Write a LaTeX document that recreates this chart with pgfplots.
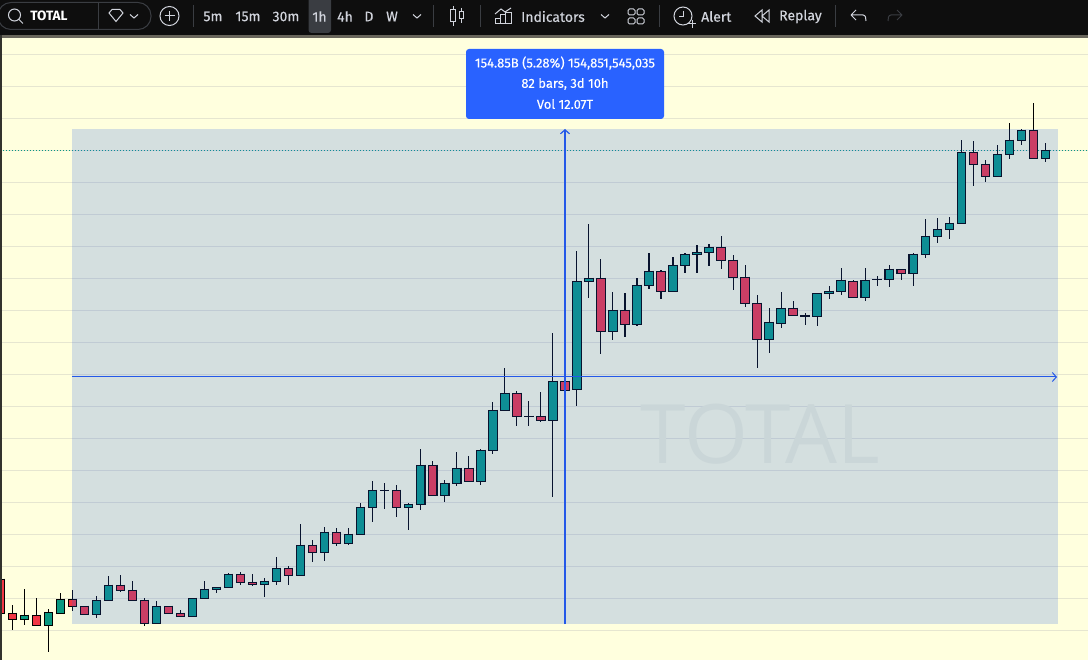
\documentclass[border=0pt]{standalone}
\usepackage{fontspec}
\setmainfont{Fira Sans}
\newfontfamily\uifont[FakeBold=0.25]{Fira Sans}
\newfontfamily\wmfont{Open Sans}
\usepackage{pgfplots}
\usepackage{pgfplotstable}
\pgfplotsset{compat=1.18}
\usetikzlibrary{arrows.meta}

\definecolor{paper}{HTML}{FFFFDE}
\definecolor{gridc}{HTML}{E6E6D0}
\definecolor{upc}{HTML}{089981}
\definecolor{downc}{HTML}{F23645}
\definecolor{tvblue}{HTML}{2962FF}
\definecolor{areac}{HTML}{2A62E6}
\definecolor{crossc}{HTML}{2458E8}
\definecolor{barc}{HTML}{0E0E0E}
\definecolor{barline}{HTML}{3A3D42}
\definecolor{txt}{HTML}{D1D4DC}
\definecolor{wmark}{HTML}{CAD6D8}

% i top bot hi lo  (pixels from the top of the picture)
\pgfplotstableread{
i top bot hi lo
0 579.3 613.3 579.3 613.3
1 613.3 619.3 605.3 629.7
3 615.3 625.3 598.3 625.3
6 599.3 606.3 590.0 610.7
7 606.3 614.3 606.3 614.3
10 585.3 590.3 575.3 591.7
11 590.3 600.3 581.3 600.3
12 600.3 623.3 598.3 625.7
14 606.3 613.3 606.3 613.3
15 613.3 616.3 610.3 617.3
20 574.3 582.3 572.3 585.3
21 582.3 584.3 574.3 586.3
24 568.3 575.3 566.3 585.3
26 545.3 552.7 540.3 562.0
28 532.3 543.7 528.3 545.7
33 490.3 507.3 485.3 516.7
36 465.3 495.3 461.3 495.3
39 468.3 481.3 456.3 481.3
43 393.3 416.3 391.3 425.7
45 416.3 420.7 392.3 422.3
47 381.3 390.3 381.3 390.3
50 278.3 331.3 259.3 353.7
52 310.3 324.3 293.3 337.3
55 271.3 291.3 270.3 299.3
60 247.3 260.3 236.3 268.7
61 260.3 277.3 255.3 290.3
62 277.3 303.3 265.3 306.7
63 303.3 339.3 295.3 367.7
66 308.3 315.3 301.3 315.3
71 281.3 297.3 280.3 297.3
75 269.7 273.3 269.7 280.0
81 152.3 164.3 141.3 185.7
82 164.3 176.3 160.3 181.7
86 130.3 158.3 103.3 158.3
}\downbars

\pgfplotstableread{
i top bot hi lo
2 615.3 619.3 589.0 624.7
4 612.7 625.3 609.3 651.7
5 599.3 613.3 593.3 613.3
8 600.3 614.3 596.3 617.7
9 585.3 600.3 576.3 600.3
13 606.3 623.3 601.3 623.3
16 598.3 616.3 598.3 616.3
17 589.3 598.3 581.3 598.3
18 587.3 589.3 587.3 593.3
19 574.3 587.3 573.3 587.3
22 581.3 584.3 578.3 597.3
23 568.3 581.3 557.3 585.3
25 545.3 575.3 524.3 575.3
27 532.3 552.3 527.3 561.0
29 534.3 543.7 528.3 544.7
30 507.3 534.3 503.3 534.3
31 490.3 507.3 481.3 521.7
32 490.5 490.5 483.3 508.7
34 504.3 507.3 503.3 529.7
35 465.3 504.3 449.3 509.7
37 483.3 495.3 480.3 502.3
38 468.3 483.3 452.3 485.7
40 450.3 481.3 449.3 484.7
41 410.3 450.3 402.3 453.7
42 393.3 410.3 368.3 410.3
44 416.3 416.3 401.3 425.7
46 381.3 420.7 333.3 497.3
48 281.3 389.3 251.3 405.7
49 278.3 281.3 224.3 298.0
51 310.3 331.3 292.3 339.7
53 285.3 324.3 278.3 326.3
54 271.3 285.3 253.3 289.3
56 265.3 291.3 257.3 291.3
57 254.3 265.3 253.3 273.3
58 252.3 254.3 245.3 272.7
59 247.3 252.3 244.3 266.3
64 322.3 339.3 308.3 352.7
65 308.3 323.3 292.3 327.7
67 315.6 316.4 313.3 324.7
68 293.3 316.3 293.3 325.7
69 291.3 293.3 286.3 299.3
70 280.3 291.3 268.3 295.3
72 280.3 297.3 268.3 300.7
73 279.3 279.3 276.3 285.7
74 269.3 279.3 265.3 286.7
76 254.3 273.3 253.3 285.7
77 236.3 254.3 219.3 258.3
78 229.3 236.3 218.3 242.7
79 223.3 229.3 217.3 238.7
80 152.3 223.3 140.3 223.3
83 154.3 176.3 145.3 176.3
84 140.3 154.3 123.3 158.7
85 130.3 140.3 129.3 144.7
87 150.3 158.3 143.3 161.7
}\upbars

% wick, outline and fill of one group of candles
\newcommand\candles[2]{%
  \addplot[draw=none,mark=none,forget plot,error bars/.cd,y dir=plus,y explicit,error mark=none,
    error bar style={draw=black,line width=1.1pt}]
    table[x expr=\thisrow{i}*12.012+0.33,y=hi,y error expr=\thisrow{lo}-\thisrow{hi}]{#1};
  \addplot[draw=none,mark=none,forget plot,error bars/.cd,y dir=plus,y explicit,error mark=none,
    error bar style={draw=black,line width=9.5pt}]
    table[x expr=\thisrow{i}*12.012+0.33,y expr=\thisrow{top}-0.6,y error expr=\thisrow{bot}-\thisrow{top}+1.2]{#1};
  \addplot[draw=none,mark=none,forget plot,error bars/.cd,y dir=plus,y explicit,error mark=none,
    error bar style={draw=#2,line width=7.4pt}]
    table[x expr=\thisrow{i}*12.012+0.33,y expr=\thisrow{top}+0.6,y error expr={max(\thisrow{bot}-\thisrow{top}-1.2,0)}]{#1};
}

\begin{document}
\begin{tikzpicture}
\begin{axis}[
  scale only axis,
  width=1088pt, height=660pt,
  xmin=0, xmax=1088, ymin=0, ymax=660,
  y dir=reverse,
  axis line style={draw=none},
  tick style={draw=none},
  xtick=\empty,
  ytick={54.3,86.3,118.3,150.3,182.3,214.3,246.3,278.3,310.3,342.3,374.3,406.3,438.3,470.3,502.3,534.3,566.3,598.3,630.3},
  yticklabels={},
  ymajorgrids=true,
  grid style={gridc,line width=1pt},
  axis background/.style={fill=paper},
]
% last price line
\addplot[upc,line width=1pt,dash pattern=on 1pt off 2pt,forget plot] coordinates {(0,150.3) (1088,150.3)};

\candles{\downbars}{downc}
\candles{\upbars}{upc}

% measure area, tints everything under it
\addplot[draw=none,fill=areac,fill opacity=0.2,forget plot] coordinates {(72,129) (1058,129) (1058,624) (72,624)} --cycle;

\node[anchor=center,text=wmark,font=\wmfont\fontsize{82}{82}\selectfont] at (760,434) {TOTAL};

% crosshair of the measure
\addplot[crossc,line width=1.2pt,-{Straight Barb[length=4pt,width=9pt]},forget plot] coordinates {(565,624) (565,129)};
\addplot[crossc,line width=1pt,-{Straight Barb[length=4pt,width=9pt]},forget plot] coordinates {(72,377) (1057,377)};

% tooltip
\fill[tvblue,rounded corners=3pt] (466,49) rectangle (664,119);
\begin{scope}[font=\uifont\fontsize{13}{13}\selectfont]
\node[text=white] at (565,63) {154.85B (5.28\%) 154,851,545,035};
\node[text=white] at (565,84) {82 bars, 3d 10h};
\node[text=white] at (565,104) {Vol 12.07T};
\end{scope}

% window frame
\fill[barc] (0,0) rectangle (1088,35);
\fill[black!80!yellow!60!gray] (0,35) rectangle (1088,38);
\fill[barc!85!paper] (0,35) rectangle (2,660);

% toolbar
\begin{scope}[font=\uifont\fontsize{14}{14}\selectfont]
\draw[barline,line width=1pt,rounded corners=13pt] (-2,2.5) -- (-2,29.5) -- (151,29.5) -- (151,2.5) -- cycle;
\draw[barline,line width=1pt] (98,2.5) -- (98,29.5);
\draw[txt,line width=1pt] (14.5,15) circle[radius=6];
\draw[txt,line width=1pt] (19,19.5) -- (23,23.5);
\node[text=white,font=\fontsize{13.5}{14}\selectfont\bfseries] at (49,16) {TOTAL};
\draw[txt,line width=1pt] (109,13) -- (112,9.5) -- (120,9.5) -- (123,13) -- (116,21.5) -- cycle;
\draw[txt,line width=1pt] (130,14.5) -- (134,18) -- (138,14.5);
\draw[txt,line width=1pt] (169.5,16) circle[radius=9.5];
\draw[txt,line width=1pt] (164.5,16) -- (174.5,16) (169.5,11) -- (169.5,21);
\draw[barline,line width=1pt] (193,5) -- (193,27);
\fill[barline,rounded corners=3pt] (308.5,-5) rectangle (331,33);
\node[text=txt] at (213,16.5) {5m};
\node[text=txt] at (248,16.5) {15m};
\node[text=txt] at (286,16.5) {30m};
\node[text=txt] at (319.5,16.5) {1h};
\node[text=txt] at (345,16.5) {4h};
\node[text=txt] at (369,16.5) {D};
\node[text=txt] at (392,16.5) {W};
\draw[txt,line width=1pt] (413,14.5) -- (417,18) -- (421,14.5);
\draw[barline,line width=1pt] (433,5) -- (433,27);
\draw[txt,line width=1pt] (450.5,10) rectangle (455.5,22) (453,6) -- (453,10) (453,22) -- (453,26);
\draw[txt,line width=1pt] (459,12) rectangle (463,19) (461,8) -- (461,12) (461,19) -- (461,23);
\draw[barline,line width=1pt] (480,5) -- (480,27);
\draw[txt,line width=1pt] (495,14) -- (501,9) -- (505,12) -- (511,8);
\draw[txt,line width=1pt] (495,24) rectangle (500,19) (500,24) rectangle (505,15) (505,24) rectangle (511,13);
\node[text=txt,anchor=west,inner sep=0pt] at (521,16.5) {Indicators};
\draw[txt,line width=1pt] (601,14.5) -- (605,18) -- (609,14.5);
\draw[txt,line width=1pt,rounded corners=1.5pt] (628,9) rectangle (635,15) (637,9) rectangle (644,15) (628,18) rectangle (635,24) (637,18) rectangle (644,24);
\draw[barline,line width=1pt] (659,5) -- (659,27);
\draw[txt,line width=1pt] (683,16) circle[radius=9];
\draw[txt,line width=1pt] (683,11) -- (683,16.5) -- (679,16.5);
\draw[txt,line width=1pt] (688,24) -- (696,24) (692,20) -- (692,28);
\node[text=txt,anchor=west,inner sep=0pt] at (701,16.5) {Alert};
\draw[txt,line width=1pt] (762,10) -- (755,16) -- (762,22) -- cycle (769,10) -- (762,16) -- (769,22) -- cycle;
\node[text=txt,anchor=west,inner sep=0pt] at (779,16.5) {Replay};
\draw[barline,line width=1pt] (835,5) -- (835,27);
\draw[txt,line width=1pt] (851,15) -- (856,10) (851,15) -- (856,20) (851,15) -- (863,15) to[out=0,in=90] (866,21);
\draw[barline,line width=1pt] (902,15) -- (897,10) (902,15) -- (897,20) (902,15) -- (891,15) to[out=180,in=90] (888,21);
\end{scope}
\end{axis}
\pgfresetboundingbox
\path[use as bounding box] (current axis.south west) rectangle (current axis.north east);
\end{tikzpicture}
\end{document}
